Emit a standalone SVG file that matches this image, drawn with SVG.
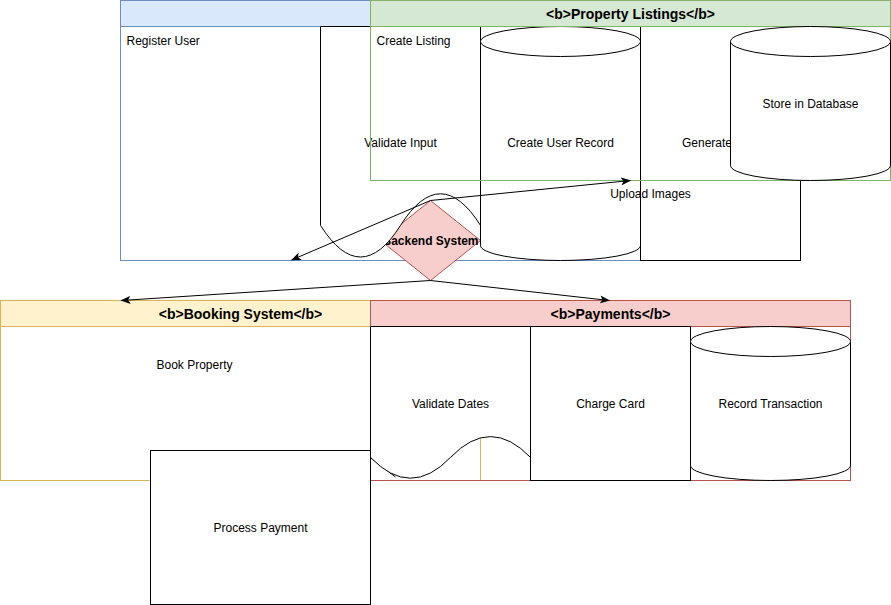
<svg xmlns="http://www.w3.org/2000/svg" width="891" height="605" viewBox="0 0 891 605">
<defs>
<style>
text{font-family:"Liberation Sans",Arial,sans-serif;font-size:12px;fill:#000}
.c{text-anchor:middle}
.b{font-weight:bold}
.t{font-size:14px}
.sh{fill:#fff;stroke:#000;stroke-width:1}
.body{fill:none}
.edge{fill:none;stroke:#000;stroke-width:1}
</style>
<marker id="arr" viewBox="0 0 10 8" refX="9.5" refY="4" markerWidth="10" markerHeight="8" markerUnits="userSpaceOnUse" orient="auto">
<path d="M0,0 L10,4 L0,8 L2.5,4 Z" fill="#000"/>
</marker>
</defs>
<g transform="translate(0.5,0.5)">
<g id="lane-user">
<rect x="120" y="0" width="520" height="26" fill="#dae8fc" stroke="#6c8ebf"/>
<rect class="body" x="120" y="26" width="520" height="234" stroke="#6c8ebf"/>
</g>

<g id="lane-booking">
<rect x="0" y="300" width="480" height="26" fill="#fff2cc" stroke="#d6b656"/>
<rect class="body" x="0" y="326" width="480" height="154" stroke="#d6b656"/>
<text class="c b t" x="240" y="318.5">&lt;b&gt;Booking System&lt;/b&gt;</text>
</g>

<g id="backend-system">
<path d="M430,200 L480,240 L430,280 L380,240 Z" fill="#f8cecc" stroke="#b85450"/>
<text class="c b" x="430" y="244.5">Backend System</text>
</g>

<g id="validate-input">
<path class="sh" d="M320,26 L480,26 L480,224.9 Q440,161.7 400,224.9 Q360,288.1 320,224.9 Z"/>
<text class="c" x="400" y="146.5">Validate Input</text>
</g>

<g id="create-user-record">
<path class="sh" d="M480,41 A80,15 0 0 1 640,41 L640,245 A80,15 0 0 1 480,245 Z"/>
<path class="sh" d="M480,41 A80,15 0 0 0 640,41"/>
<text class="c" x="560" y="146.5">Create User Record</text>
</g>

<g id="generate">
<rect class="sh" x="640" y="26" width="160" height="234"/>
<text x="681.5" y="146.5">Generate</text>
</g>

<g id="lane-listings">
<rect x="370" y="0" width="520" height="26" fill="#d5e8d4" stroke="#82b366"/>
<rect class="body" x="370" y="26" width="520" height="154" stroke="#82b366"/>
<text class="c b t" x="630" y="18.5">&lt;b&gt;Property Listings&lt;/b&gt;</text>
</g>

<g id="store-in-database">
<path class="sh" d="M730,41 A80,15 0 0 1 890,41 L890,165 A80,15 0 0 1 730,165 Z"/>
<path class="sh" d="M730,41 A80,15 0 0 0 890,41"/>
<text class="c" x="810" y="107">Store in Database</text>
</g>

<g id="register-user"><text x="126" y="44">Register User</text></g>
<g id="create-listing"><text x="376" y="44">Create Listing</text></g>
<g id="upload-images"><text class="c" x="650" y="197.5">Upload Images</text></g>
<g id="book-property"><text x="156" y="368">Book Property</text></g>

<g id="lane-payments">
<rect x="370" y="300" width="480" height="26" fill="#f8cecc" stroke="#b85450"/>
<rect class="body" x="370" y="326" width="480" height="154" stroke="#b85450"/>
<text class="c b t" x="610" y="318.5">&lt;b&gt;Payments&lt;/b&gt;</text>
</g>

<g id="connectors-hidden">
<path class="edge" d="M366,454 L395,476.5"/>
</g>

<g id="validate-dates">
<path class="sh" d="M370,326 L530,326 L530,456.9 Q490,415.3 450,456.9 Q410,498.5 370,456.9 Z"/>
<text class="c" x="450" y="407">Validate Dates</text>
</g>

<g id="charge-card">
<rect class="sh" x="530" y="326" width="160" height="154"/>
<text class="c" x="610" y="407">Charge Card</text>
</g>

<g id="record-transaction">
<path class="sh" d="M690,341 A80,15 0 0 1 850,341 L850,465 A80,15 0 0 1 690,465 Z"/>
<path class="sh" d="M690,341 A80,15 0 0 0 850,341"/>
<text class="c" x="770" y="407">Record Transaction</text>
</g>

<g id="process-payment">
<rect class="sh" x="150" y="450" width="220" height="154"/>
<text class="c" x="260" y="531">Process Payment</text>
</g>

<g id="connectors">
<path class="edge" d="M430,200 L291,259.5" marker-end="url(#arr)"/>
<path class="edge" d="M430,200 L630,180" marker-end="url(#arr)"/>
<path class="edge" d="M430,280 L120.5,300" marker-end="url(#arr)"/>
<path class="edge" d="M430,280 L609,300" marker-end="url(#arr)"/>
</g>
</g>
</svg>
